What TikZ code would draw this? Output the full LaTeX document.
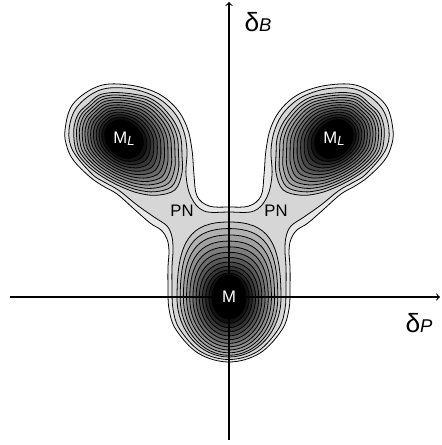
\documentclass[tikz,border=0pt]{standalone}
\usepackage{fontspec}
\setmainfont{Liberation Sans}
\usetikzlibrary{arrows}

% one closed level curve of a well: half width, depth away from the saddle, reach towards it, squareness
\newcommand\eggcurve[4]{(0,-#2) .. controls (0.552*#1,-#2) and (#1,-0.552*#2) .. (#1,0)
  .. controls (#1,#4*#3) and (#4*#1,#3) .. (0,#3)
  .. controls (-#4*#1,#3) and (-#1,#4*#3) .. (-#1,0)
  .. controls (-#1,-0.552*#2) and (-0.552*#1,-#2) .. cycle}

% radius of the outermost closed level of an upper well, every 15 degrees
\def\rimradii{57,54,51,49.5,48,46,46,48,50.5,50,52,51.5,50,49,46,44,43.5,45,49,56,65,72,67,60}

\begin{document}
\begin{tikzpicture}[x=0.02cm, y=0.02cm,
        contour/.style={draw=black, line width=0.45pt},
        axis/.style={line width=0.6pt, ->},
        minimum/.style={font=\fontsize{9.5}{11}\selectfont, text=white, inner sep=0pt},
        saddle/.style={font=\fontsize{9.5}{11}\selectfont, inner sep=0pt},
        axlabel/.style={font=\fontsize{15}{18}\selectfont, inner sep=0pt}]

    \useasboundingbox (-229,-148) rectangle (212,297);

    % outer level, around all three wells
    \draw[contour, fill=black!9] plot[smooth cycle, tension=0.6] coordinates {
        (0,-65) (-30.5,-56.4) (-52.8,-33) (-60,-12) (-61,10) (-61,30) (-60,46) (-62,58) (-68,67)
        (-79,74) (-95,88) (-112,103) (-126,111) (-139,120) (-155,136) (-162,150) (-164,167)
        (-156,193) (-130,211) (-100,212) (-72,204) (-53,189) (-42,170) (-37,147) (-35,122)
        (-32,101) (-20,91) (0,90)
        (20,91) (32,101) (35,122) (37,147) (42,170) (53,189) (72,204) (100,212) (130,211)
        (156,193) (164,167) (162,150) (155,136) (139,120) (126,111) (112,103) (95,88) (79,74)
        (68,67) (62,58) (60,46) (61,30) (61,10) (60,-12) (52.8,-33) (30.5,-56.4)};

    % level through the saddles
    \draw[contour, fill=black!16] plot[smooth cycle, tension=0.6] coordinates {
        (0,-62.5) (-28.5,-54.5) (-49.4,-32) (-56,-12) (-57,10) (-57,30) (-56,46) (-57,60) (-62,71)
        (-75,80) (-92,92) (-110,106.5) (-124,114.5) (-137,123) (-156,146) (-160,167) (-152,190)
        (-129,207) (-100,208.5) (-74,200.5) (-56,186) (-46,168) (-42,147) (-43,122) (-38,100)
        (-25,86) (0,85)
        (25,86) (38,100) (43,122) (42,147) (46,168) (56,186) (74,200.5) (100,208.5) (129,207)
        (152,190) (160,167) (156,146) (137,123) (124,114.5) (110,106.5) (92,92) (75,80) (62,71)
        (57,60) (56,46) (57,30) (57,10) (56,-12) (49.4,-32) (28.5,-54.5)};

    % well M
    \foreach \i in {1,...,12}{
        \pgfmathsetmacro\s{(12-\i)/11}
        \pgfmathsetmacro\w{17+35*\s}
        \pgfmathsetmacro\m{21+38*(1-(1.0001-\s)^1.3)}
        \pgfmathsetmacro\p{23+53*(\s+0.0001)^1.4}
        \pgfmathsetmacro\k{0.55+0.2*\s}
        \pgfmathtruncatemacro\shade{min(7*\i+16,100)}
        \draw[contour, fill=black!\shade, shift={(0,-1)}] \eggcurve{\w}{\m}{\p}{\k};
    }

    % wells M_L, left and mirrored
    \foreach \side in {1,-1}{
        \begin{scope}[xscale=\side]
            \foreach \i in {1,...,12}{
                \pgfmathsetmacro\s{(12-\i)/11}
                \pgfmathtruncatemacro\shade{min(7*\i+16,100)}
                \gdef\pts{}
                \foreach \r [count=\j from 0] in \rimradii {
                    \pgfmathsetmacro\rcore{19+2*cos(2*(15*\j-135))}
                    \pgfmathsetmacro\rr{\rcore+(\r-\rcore)*\s}
                    \pgfmathsetmacro\px{-105+\rr*cos(15*\j)}
                    \pgfmathsetmacro\py{158+\rr*sin(15*\j)}
                    \xdef\pts{\pts (\px,\py)}
                }
                \edef\lvl{\noexpand\draw[contour, fill=black!\shade] plot[smooth cycle, tension=0.6] coordinates {\pts};}
                \lvl
            }
        \end{scope}
    }

    % axes
    \coordinate (xfrom) at (-219,0);
    \coordinate (xto) at (211,0);
    \coordinate (yfrom) at (0,-143);
    \coordinate (yto) at (0,295);
    \draw[axis] (xfrom) -- (xto);
    \draw[axis] (yfrom) -- (yto);

    \node[axlabel] (dB) at (29,275) {δ{\fontsize{10.5}{12}\selectfont\itshape B}};
    \node[axlabel] (dP) at (190,-26) {δ{\fontsize{10.5}{12}\selectfont\itshape P}};

    \node[minimum] (mid) at (0,0) {M};
    \node[minimum] (leftmin) at (-105,158) {M\raisebox{-1pt}{\fontsize{7.5}{9}\selectfont\itshape L}};
    \node[minimum] (rightmin) at (105,158) {M\raisebox{-1pt}{\fontsize{7.5}{9}\selectfont\itshape L}};
    \node[saddle] (leftpn) at (-47,86) {PN};
    \node[saddle] (rightpn) at (47,86) {PN};
\end{tikzpicture}
\end{document}
